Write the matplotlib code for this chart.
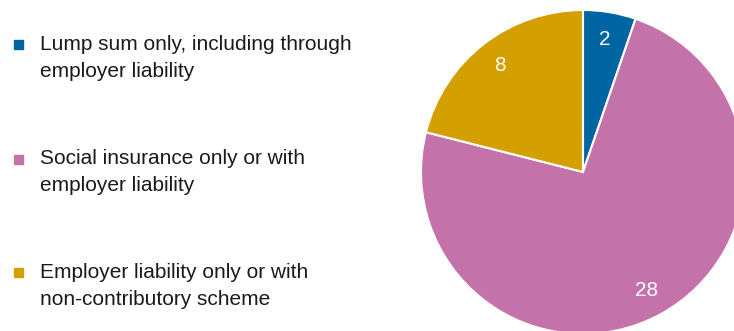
import matplotlib
matplotlib.use("Agg")
import matplotlib.pyplot as plt
from matplotlib.patches import Rectangle

# Número de países por tipo de regime
categories = [
    "Lump sum only, including through\nemployer liability",
    "Social insurance only or with\nemployer liability",
    "Employer liability only or with\nnon-contributory scheme",
]
counts = [2, 28, 8]
colors = ["#0066a3", "#c372aa", "#d4a000"]

plt.rcParams["font.family"] = ["Liberation Sans", "DejaVu Sans"]

W, H = 734, 331
fig = plt.figure(figsize=(W / 100, H / 100), dpi=100)

# Pie: centro (583, 172) px, raio 162 px; sai um pouco da figura à direita e em baixo
cx, cy, r = 583, 172, 162
ax = fig.add_axes([(cx - r) / W, (H - cy - r) / H, 2 * r / W, 2 * r / H])
total = sum(counts)
ax.pie(counts, colors=colors, startangle=90, counterclock=False,
       radius=1, wedgeprops=dict(edgecolor="white", linewidth=1.5),
       autopct=lambda p: f"{round(p * total / 100)}", pctdistance=0.83,
       textprops=dict(color="white", fontsize=15))
ax.set_xlim(-1, 1)
ax.set_ylim(-1, 1)
ax.set_aspect("equal")
ax.axis("off")

# Legenda à esquerda: quadrado + texto em duas linhas
ys = [44.5, 159, 272.5]
for label, color, y in zip(categories, colors, ys):
    fig.add_artist(Rectangle((14 / W, (H - y - 4.5) / H), 9 / W, 9 / H,
                             transform=fig.transFigure, color=color))
    fig.text(40 / W, (H - y + 10) / H, label, fontsize=15,
             color="#1a1a1a", va="top", ha="left", linespacing=1.55)

fig.savefig("out.png", dpi=100)
